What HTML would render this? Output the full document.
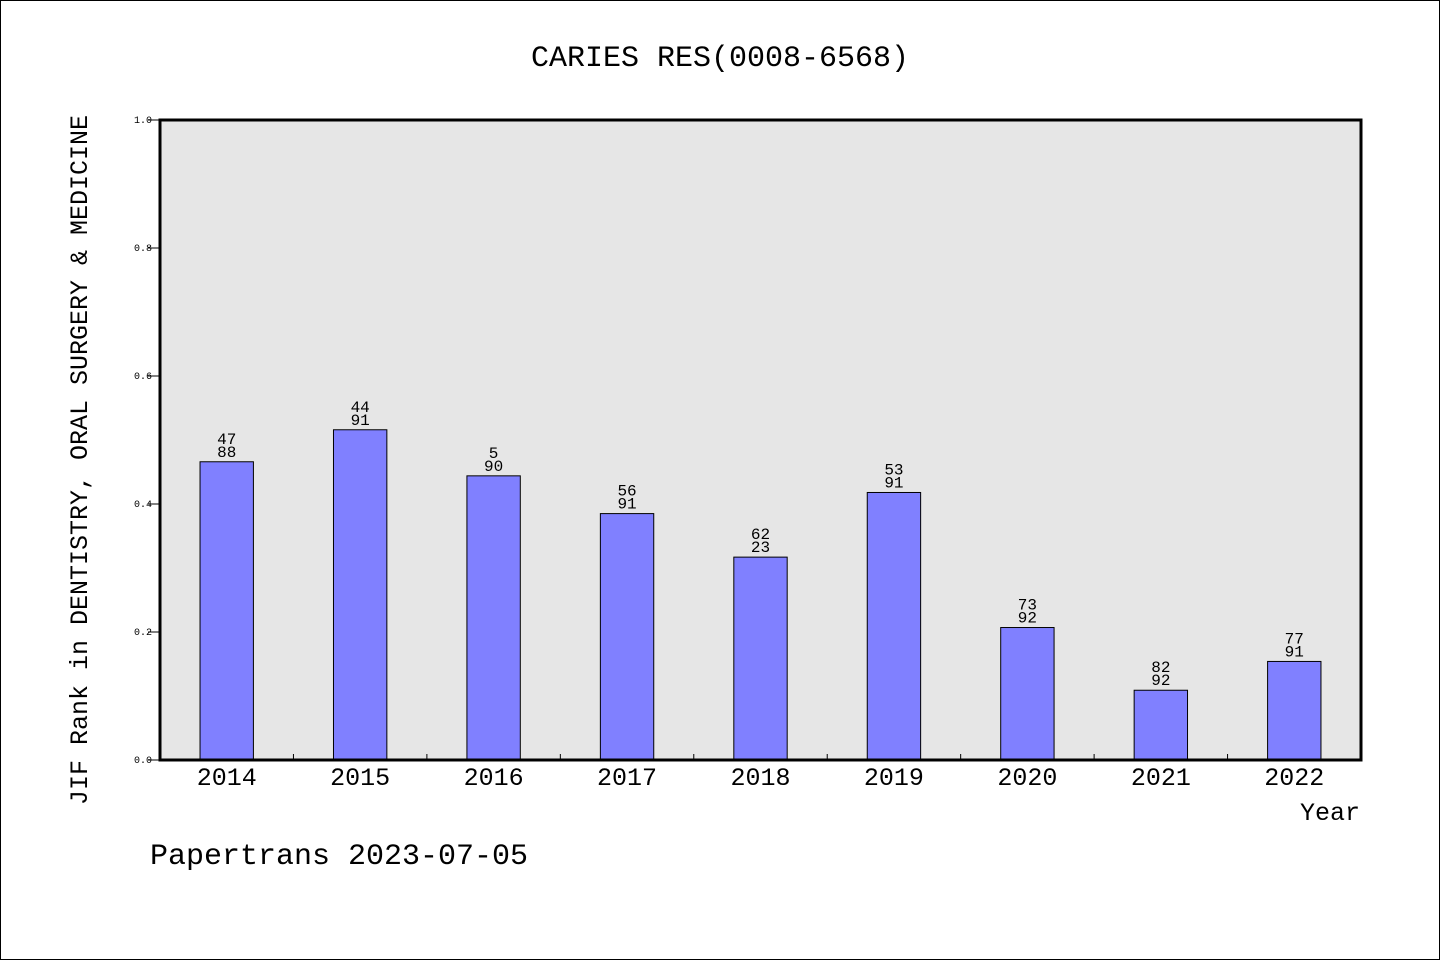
<!DOCTYPE html>
<html><head><meta charset="utf-8"><style>
html,body{margin:0;padding:0;background:#fff;}
svg{display:block;font-family:"Liberation Mono","Noto Sans CJK SC",monospace;}
</style></head><body>
<svg id="chart" width="1440" height="960" viewBox="0 0 1440 960">
<rect x="0.5" y="0.5" width="1439" height="959" fill="#fff" stroke="#000"/>
<text x="720" y="66" text-anchor="middle" font-size="30">CARIES RES(0008-6568)</text>
<rect x="160" y="120" width="1201" height="640" fill="#e6e6e6"/>
<g id="yticks"></g>
<g id="bars"></g>
<rect x="160" y="120" width="1201" height="640" fill="none" stroke="#000" stroke-width="3"/>
<g id="xticks"></g>
<text transform="translate(87,460) rotate(-90)" text-anchor="middle" font-size="25">JIF Rank in DENTISTRY, ORAL SURGERY &amp; MEDICINE</text>
<text x="1360" y="820" text-anchor="end" font-size="25">Year</text>
<text x="150" y="864" font-size="30">Papertrans 2023-07-05</text>
</svg>
<script>
const years = ["2014","2015","2016","2017","2018","2019","2020","2021","2022"];
const values = [0.466,0.516,0.444,0.385,0.317,0.418,0.207,0.109,0.154];
const rankTop = ["47","44","5","56","62","53","73","82","77"];
const rankBottom = ["88","91","90","91","23","91","92","92","91"];
const yTickLabels = ["0.0","0.2","0.4","0.6","0.8","1.0"];
const yTickValues = [0,0.2,0.4,0.6,0.8,1.0];

const NS="http://www.w3.org/2000/svg";
const X0=160,X1=1361,Y0=760,Y1=120;
const band=(X1-X0)/years.length;
const xc=i=>X0+band*(i+0.5);
const y=v=>Y0-(Y0-Y1)*v;
function mk(tag,attrs,parent){const e=document.createElementNS(NS,tag);for(const k in attrs)e.setAttribute(k,attrs[k]);parent.appendChild(e);return e;}
const gy=document.getElementById('yticks'),gb=document.getElementById('bars'),gx=document.getElementById('xticks');
yTickValues.forEach((v,i)=>{
  const l=mk('line',{x1:148,x2:160,y1:y(v),y2:y(v),stroke:'#000'},gy);
  
  
  const t=mk('text',{x:152,y:y(v)+3,'text-anchor':'end','font-size':10},gy);
  t.textContent=yTickLabels[i];
  
  
});
const bw=band*0.4;
years.forEach((yr,i)=>{
  const r=mk('rect',{x:xc(i)-bw/2,y:y(values[i]),width:bw,height:Y0-y(values[i]),fill:'#8080ff',stroke:'#000','stroke-width':1},gb);
  
  
  const t1=mk('text',{x:xc(i),y:y(values[i])-18,'text-anchor':'middle','font-size':16},gb);
  t1.textContent=rankTop[i];
  
  
  const t2=mk('text',{x:xc(i),y:y(values[i])-5,'text-anchor':'middle','font-size':16},gb);
  t2.textContent=rankBottom[i];
  
  
  const xl=mk('text',{x:xc(i),y:785,'text-anchor':'middle','font-size':25},gx);
  xl.textContent=yr;
  
  
  if(i>0){
    const tk=mk('line',{x1:X0+band*i,x2:X0+band*i,y1:754,y2:760,stroke:'#000'},gx);
    
    
  }
});
</script>
</body></html>
